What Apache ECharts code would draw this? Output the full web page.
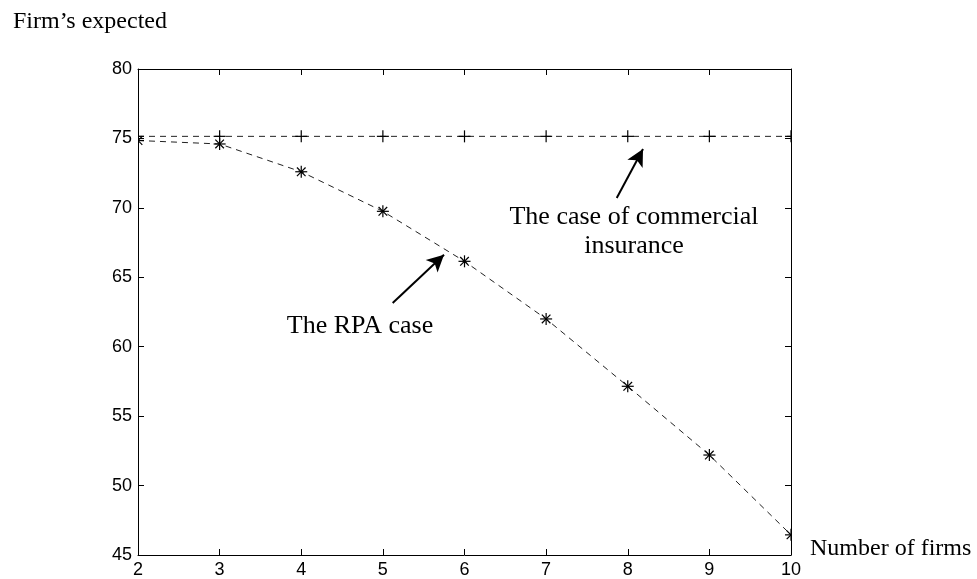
<!DOCTYPE html>
<html>
<head>
<meta charset="utf-8">
<script src="https://cdn.jsdelivr.net/npm/echarts@6/dist/echarts.min.js"></script>
<style>
  html, body { margin: 0; padding: 0; background: #fff; }
  #chart { width: 977px; height: 579px; }
</style>
</head>
<body>
<div id="chart"></div>
<script>
// Number of firms
const firms = [2, 3, 4, 5, 6, 7, 8, 9, 10];
// Firm's expected value under commercial insurance
const commercialValues = [75.15, 75.15, 75.15, 75.15, 75.15, 75.15, 75.15, 75.15, 75.15];
// Firm's expected value under the RPA
const rpaValues = [74.85, 74.6, 72.6, 69.75, 66.15, 62.0, 57.15, 52.2, 46.45];
// Axis ticks
const xTicks = [2, 3, 4, 5, 6, 7, 8, 9, 10];
const yTicks = [45, 50, 55, 60, 65, 70, 75, 80];
// Arrow annotations: [tail, head] in data units
const commercialArrow = [[7.865, 70.71], [8.187, 74.24]];
const rpaArrow = [[5.12, 63.15], [5.749, 66.63]];

const serif = "'Liberation Serif', 'Times New Roman', serif";
const sans = "'Liberation Sans', Arial, sans-serif";
const ink = '#000';

function pairs(xs, ys) { return xs.map((x, i) => [x, ys[i]]); }

const xBase = {
  type: 'value', min: xTicks[0], max: xTicks[xTicks.length - 1], interval: 1,
  axisLine: { show: true, lineStyle: { color: ink, width: 1 } },
  axisTick: { show: true, inside: true, length: 6, lineStyle: { color: ink } },
  splitLine: { show: false }
};
const yBase = {
  type: 'value', min: yTicks[0], max: yTicks[yTicks.length - 1], interval: 5,
  axisLine: { show: true, lineStyle: { color: ink, width: 1 } },
  axisTick: { show: true, inside: true, length: 6, lineStyle: { color: ink } },
  splitLine: { show: false }
};

// Marker glyphs drawn in pixel space around each data point
function plusGlyph(c) {
  const r = 6;
  return [
    { type: 'line', shape: { x1: c[0] - r, y1: c[1], x2: c[0] + r, y2: c[1] }, style: { stroke: ink, lineWidth: 1.2 } },
    { type: 'line', shape: { x1: c[0], y1: c[1] - r, x2: c[0], y2: c[1] + r }, style: { stroke: ink, lineWidth: 1.2 } }
  ];
}
function starGlyph(c) {
  const r = 6, d = 4.3;
  return [
    { type: 'line', shape: { x1: c[0] - r, y1: c[1], x2: c[0] + r, y2: c[1] }, style: { stroke: ink, lineWidth: 1.2 } },
    { type: 'line', shape: { x1: c[0], y1: c[1] - r, x2: c[0], y2: c[1] + r }, style: { stroke: ink, lineWidth: 1.2 } },
    { type: 'line', shape: { x1: c[0] - d, y1: c[1] - d, x2: c[0] + d, y2: c[1] + d }, style: { stroke: ink, lineWidth: 1.2 } },
    { type: 'line', shape: { x1: c[0] - d, y1: c[1] + d, x2: c[0] + d, y2: c[1] - d }, style: { stroke: ink, lineWidth: 1.2 } }
  ];
}
function markerSeries(name, data, glyph) {
  return {
    name: name, type: 'custom', data: data, clip: true, z: 4,
    renderItem: function (params, api) {
      const c = api.coord([api.value(0), api.value(1)]);
      return { type: 'group', children: glyph(c) };
    }
  };
}
function arrowLine(seg) {
  return {
    silent: true, symbol: ['none', 'arrow'], symbolSize: [13, 17],
    label: { show: false },
    lineStyle: { color: ink, type: 'solid', width: 2 },
    data: [[{ coord: seg[0] }, { coord: seg[1] }]]
  };
}

const chart = echarts.init(document.getElementById('chart'), null, { renderer: 'canvas' });
chart.setOption({
  animation: false,
  backgroundColor: '#fff',
  grid: { left: 138, right: 186, top: 69, bottom: 24, containLabel: false },
  xAxis: [
    Object.assign({}, xBase, { position: 'bottom',
      axisLabel: { show: true, color: ink, fontFamily: sans, fontSize: 18, margin: 6 } }),
    Object.assign({}, xBase, { position: 'top', axisLabel: { show: false } })
  ],
  yAxis: [
    Object.assign({}, yBase, { position: 'left',
      axisLabel: { show: true, color: ink, fontFamily: sans, fontSize: 18, margin: 6 } }),
    Object.assign({}, yBase, { position: 'right', axisLabel: { show: false } })
  ],
  series: [
    {
      name: 'Commercial insurance', type: 'line', data: pairs(firms, commercialValues),
      showSymbol: false, clip: true, z: 3,
      lineStyle: { color: '#222', width: 1, type: [6, 5] },
      markLine: arrowLine(commercialArrow)
    },
    {
      name: 'RPA', type: 'line', data: pairs(firms, rpaValues),
      showSymbol: false, clip: true, z: 3,
      lineStyle: { color: '#222', width: 1, type: [6, 5] },
      markLine: arrowLine(rpaArrow)
    },
    markerSeries('Commercial insurance markers', pairs(firms, commercialValues), plusGlyph),
    markerSeries('RPA markers', pairs(firms, rpaValues), starGlyph)
  ],
  graphic: [
    { type: 'text', left: 13, top: 10,
      style: { text: 'Firm\u2019s expected', font: '24px ' + serif, fill: ink } },
    { type: 'text', left: 810, top: 537,
      style: { text: 'Number of firms', font: '24px ' + serif, fill: ink } },
    { type: 'text', x: 634, y: 232,
      style: { text: 'The case of commercial\ninsurance', font: '26px ' + serif, fill: ink,
               align: 'center', verticalAlign: 'middle', lineHeight: 29 } },
    { type: 'text', x: 360, y: 326,
      style: { text: 'The RPA case', font: '26px ' + serif, fill: ink,
               align: 'center', verticalAlign: 'middle' } }
  ]
});
</script>
</body>
</html>
